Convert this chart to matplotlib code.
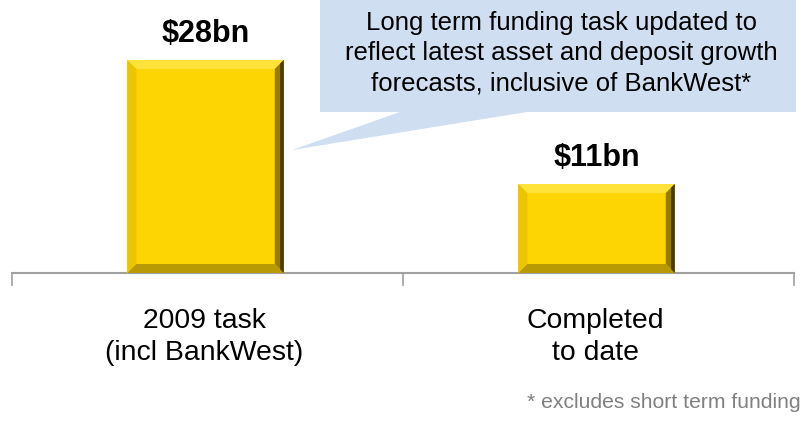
import matplotlib
matplotlib.use("Agg")
import matplotlib.pyplot as plt
from matplotlib.patches import Polygon

plt.rcParams['font.family'] = ['Liberation Sans', 'DejaVu Sans']

# data
categories = ['2009 task\n(incl BankWest)', 'Completed\nto date']
values = [28, 11.7]
value_labels = ['$28bn', '$11bn']
callout = ('Long term funding task updated to\n'
           'reflect latest asset and deposit growth\n'
           'forecasts, inclusive of BankWest*')
footnote = '* excludes short term funding'

W, H = 805, 421
fig = plt.figure(figsize=(W / 100, H / 100), dpi=100)

# overlay in pixel coords for callout / notes
ov = fig.add_axes([0, 0, 1, 1])
ov.set_xlim(0, W)
ov.set_ylim(H, 0)
ov.axis('off')

# bar axes: x from 12px to 794px, y from 273px (baseline) to 0
x0, x1, yb = 12, 794, 273
ax = fig.add_axes([x0 / W, 1 - yb / H, (x1 - x0) / W, yb / H])
ymax = values[0] * yb / 213
ax.set_xlim(-0.5, 1.5)
ax.set_ylim(0, ymax)
ax.axis('off')

bw = 0.4
px_x = 2 / (x1 - x0)
px_y = ymax / yb
bev = 9
for i, v in enumerate(values):
    l, r = i - bw / 2 - 0.005, i + bw / 2 - 0.005
    t, b = v, 0
    ax.add_patch(Polygon([(l, t), (r, t), (r, b), (l, b)], closed=True,
                         facecolor='#FDD503', edgecolor='none', zorder=2))
    dx, dy = bev * px_x, bev * px_y
    faces = [
        ([(l, t), (r, t), (r - dx, t - dy), (l + dx, t - dy)], '#FFE33A'),
        ([(l, t), (l + dx, t - dy), (l + dx, b + dy), (l, b)], '#EDC400'),
        ([(r, t), (r, b), (r - dx, b + dy), (r - dx, t - dy)], '#9A7D00'),
        ([(l, b), (l + dx, b + dy), (r - dx, b + dy), (r, b)], '#B89A05'),
    ]
    for pts, c in faces:
        ax.add_patch(Polygon(pts, closed=True, facecolor=c, edgecolor='none', zorder=3))
    ax.add_patch(Polygon([(r - dx * 0.4, t - dy * 0.4), (r, t), (r, b), (r - dx * 0.4, b + dy * 0.4)],
                         closed=True, facecolor='#4A3C00', edgecolor='none', zorder=4))
    ax.text(i - 0.005, v + 26 * px_y, value_labels[i], ha='center', va='center',
            fontsize=22, fontweight='bold', color='black')

# axis line and ticks
ov.plot([x0, x1], [yb, yb], color='#A0A0A0', lw=1.5, zorder=5)
for tx in [x0, (x0 + x1) / 2, x1]:
    ov.plot([tx, tx], [yb, yb + 12], color='#A0A0A0', lw=1.2, zorder=5)

# category labels
for i, c in enumerate(categories):
    cx = x0 + (i + 0.5) * (x1 - x0) / 2 - 3
    ov.text(cx, 337, c, ha='center', va='center', fontsize=20.4,
            linespacing=1.3, color='black')

# callout
ov.add_patch(Polygon([(320, 0), (796, 0), (796, 112), (527, 112), (292, 150),
                      (400, 112), (320, 112)], closed=True,
                     facecolor='#CFDEF0', edgecolor='none', zorder=1))
ov.text(561, 53, callout, ha='center', va='center', fontsize=18.5,
        linespacing=1.33, color='black', zorder=2)

ov.text(801, 403, footnote, ha='right', va='center', fontsize=15.2, color='#808080')

fig.savefig('out.png', dpi=100)
